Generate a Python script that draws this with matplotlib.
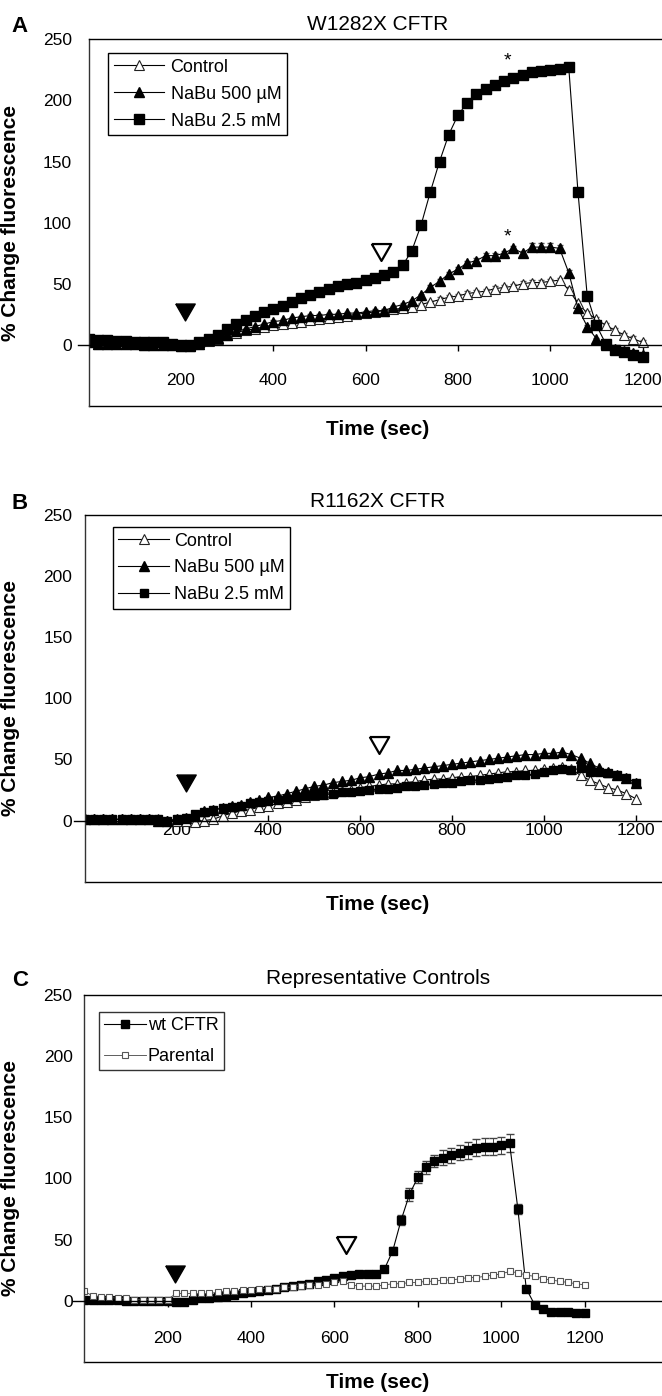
import matplotlib
matplotlib.use("Agg")
import matplotlib.pyplot as plt

plt.rcParams['font.family'] = ['Liberation Sans', 'DejaVu Sans']

# sample times (sec)
t = list(range(0, 1201, 20))

# Panel A: W1282X CFTR
a_ctrl = [2, 1, 1, 1, 1, 1, 0, 0, 0, 0,
          -1, -1, 1, 3, 5, 8, 10, 12, 13, 15,
          16, 17, 18, 19, 20, 21, 22, 23, 24, 25,
          26, 27, 28, 29, 30, 31, 33, 35, 37, 39,
          40, 42, 43, 44, 46, 47, 48, 50, 51, 51,
          52, 53, 45, 34, 26, 21, 16, 12, 8, 5,
          2]
a_ctrl_err = [1, 1, 1, 1, 1, 1, 1, 1, 1, 1,
              1, 1, 1, 1, 1, 1, 1, 1, 1, 1,
              1, 1, 1, 1, 1, 1, 1, 1, 1, 1,
              1, 1, 1, 1, 1, 1, 1, 1, 2, 2,
              2, 2, 2, 2, 2, 2, 2, 2, 2, 2,
              2, 2, 2, 2, 2, 2, 2, 2, 2, 2,
              2]
a_500 = [2, 1, 1, 1, 1, 1, 0, 0, 0, 0,
         -1, -1, 1, 4, 6, 8, 11, 13, 15, 17,
         19, 20, 22, 23, 24, 24, 25, 25, 26, 26,
         27, 28, 28, 31, 33, 36, 41, 47, 52, 58,
         62, 67, 69, 73, 73, 75, 79, 75, 80, 80,
         80, 79, 59, 30, 15, 5, 0, -3, -5, -7,
         -8]
a_500_err = [1, 1, 1, 1, 1, 1, 1, 1, 1, 1,
             1, 1, 1, 1, 1, 1, 1, 1, 1, 1,
             1, 1, 1, 1, 1, 1, 1, 1, 1, 1,
             1, 1, 1, 1, 1, 1, 1, 2, 2, 2,
             2, 2, 2, 2, 2, 2, 2, 2, 3, 3,
             3, 3, 2, 2, 1, 1, 1, 1, 1, 1,
             1]
a_25 = [5, 4, 4, 3, 3, 2, 2, 2, 2, 1,
        0, 0, 2, 5, 8, 13, 17, 20, 24, 27,
        29, 32, 35, 38, 41, 43, 46, 48, 50, 51,
        53, 55, 57, 60, 65, 77, 98, 125, 150, 172,
        188, 198, 205, 209, 213, 216, 218, 221, 223, 224,
        225, 226, 227, 125, 40, 16, 1, -4, -6, -8,
        -10]

# Panel B: R1162X CFTR
b_ctrl = [1, 1, 1, 1, 1, 1, 1, 1, 1, 0,
          0, 0, -1, 0, 1, 4, 6, 8, 9, 11,
          12, 14, 15, 17, 19, 21, 22, 23, 24, 25,
          27, 28, 29, 30, 30, 31, 32, 33, 34, 34,
          35, 36, 36, 37, 38, 39, 40, 40, 41, 41,
          42, 43, 44, 42, 37, 33, 30, 27, 25, 22,
          18]
b_500 = [1, 1, 1, 1, 1, 1, 1, 1, 0, 0,
         1, 2, 4, 8, 9, 10, 12, 13, 15, 17,
         19, 20, 22, 24, 26, 28, 29, 31, 32, 33,
         35, 36, 38, 39, 41, 41, 42, 43, 44, 45,
         46, 47, 48, 49, 50, 51, 52, 53, 54, 54,
         55, 55, 56, 54, 51, 47, 43, 40, 37, 35,
         31]
b_25 = [1, 1, 1, 1, 1, 1, 1, 1, 1, 0,
        1, 2, 5, 7, 9, 10, 11, 12, 14, 15,
        16, 17, 18, 19, 20, 21, 21, 22, 23, 23,
        24, 25, 26, 26, 27, 28, 28, 29, 30, 31,
        31, 32, 33, 33, 34, 35, 36, 37, 37, 38,
        40, 41, 42, 41, 43, 40, 40, 39, 37, 35,
        31]

# Panel C: representative controls
c_wt = [1, 1, 1, 1, 1, 0, 0, 0, 0, 0,
        0, -1, -1, 1, 2, 2, 3, 4, 5, 6,
        7, 8, 9, 10, 11, 12, 13, 14, 16, 17,
        19, 20, 21, 22, 22, 22, 26, 41, 66, 87,
        101, 109, 114, 117, 119, 121, 123, 125, 126, 126,
        127, 129, 75, 10, -3, -7, -9, -9, -9, -10,
        -10]
c_wt_err = [1, 1, 1, 1, 1, 1, 1, 1, 1, 1,
            1, 1, 1, 1, 1, 1, 1, 1, 1, 1,
            1, 1, 1, 1, 1, 1, 1, 1, 1, 1,
            1, 1, 1, 1, 1, 1, 2, 3, 4, 5,
            5, 5, 5, 6, 6, 6, 7, 7, 7, 7,
            7, 7, 4, 2, 1, 1, 1, 1, 1, 1,
            1]
c_par = [8, 4, 3, 3, 2, 2, 1, 1, 1, 1,
         1, 6, 6, 6, 6, 6, 7, 8, 8, 9,
         9, 10, 10, 10, 11, 11, 12, 13, 13, 14,
         15, 16, 13, 12, 12, 12, 13, 14, 14, 15,
         15, 16, 16, 17, 17, 18, 19, 19, 20, 21,
         22, 24, 23, 21, 20, 18, 17, 16, 15, 14,
         13]

# arrowhead markers (time, value) and asterisks
a_arrows = [(208, 27), (634, 76)]
b_arrows = [(220, 31), (641, 62)]
c_arrows = [(218, 22), (628, 46)]
a_stars = [(908, 232), (908, 88)]

xticks = [200, 400, 600, 800, 1000, 1200]
yticks = [0, 50, 100, 150, 200, 250]

W, H = 662, 1396
fig = plt.figure(figsize=(W / 100, H / 100), dpi=100)

def px_axes(left, top, bottom):
    return fig.add_axes([left / W, 1 - bottom / H, (W - left) / W, (bottom - top) / H])

down_tri = [(-1, 0.87), (1, 0.87), (0, -0.87), (-1, 0.87)]

def style(ax, xmax, ypad, xpad, xdir, left_px):
    ax.set_xlim(0, xmax)
    ax.set_ylim(-50, 250)
    ax.spines['right'].set_visible(False)
    ax.spines['bottom'].set_position(('data', 0))
    for s in ax.spines.values():
        s.set_linewidth(1.0)
    ax.spines['left'].set_color('#333333')
    ax.set_xticks(xticks)
    ax.set_yticks(yticks)
    ax.tick_params(axis='y', length=0, pad=ypad, labelsize=12.5)
    ax.tick_params(axis='x', length=4, direction=xdir, pad=xpad, labelsize=12.5, width=1)
    # box bottom and zero-line stub to the left
    ax.plot([0, 1], [0, 0], transform=ax.transAxes, color='k', lw=1.0, clip_on=False)
    ax.plot([-11 / (W - left_px), 0], [0, 0], transform=ax.get_yaxis_transform(),
            color='k', lw=1.0, clip_on=False)
    ax.set_ylabel('% Change fluorescence', fontsize=15, fontweight='bold')

def arrows(ax, pts):
    ax.plot(pts[0][0], pts[0][1], marker=down_tri, ms=14, color='k', ls='none')
    ax.plot(pts[1][0], pts[1][1], marker=down_tri, ms=14, mfc='white', mec='k',
            mew=1.6, ls='none')

lw = 0.8

# ---- A ----
axA = px_axes(88.7, 39.3, 406)
style(axA, 1242, 12, 16, 'out', 88.7)
axA.errorbar(t, a_ctrl, yerr=a_ctrl_err, fmt='none', ecolor='#555555', elinewidth=0.6, capsize=2.5)
axA.errorbar(t, a_500, yerr=a_500_err, fmt='none', ecolor='#555555', elinewidth=0.6, capsize=2.5)
lA1, = axA.plot(t, a_ctrl, '-', color='k', lw=lw, marker='^', ms=6.5, mfc='white', mec='#222222', mew=0.8, label='Control')
lA2, = axA.plot(t, a_500, '-', color='k', lw=lw, marker='^', ms=7, mfc='k', mec='k', label='NaBu 500 µM')
lA3, = axA.plot(t, a_25, '-', color='k', lw=lw, marker='s', ms=6.5, mfc='k', mec='k', label='NaBu 2.5 mM')
arrows(axA, a_arrows)
for x, y in a_stars:
    axA.text(x, y, '*', fontsize=14, ha='center', va='center')
axA.yaxis.set_label_coords((20 - 88.7) / (W - 88.7), 0.5)
axA.legend(handles=[lA1, lA2, lA3], loc='upper left', bbox_to_anchor=(0.0342, 0.962),
           borderaxespad=0, fontsize=13, frameon=True, fancybox=False, framealpha=1,
           edgecolor='k', handlelength=2.8, handletextpad=0.35, borderpad=0.3,
           labelspacing=0.55).get_frame().set_linewidth(1.0)

# ---- B ----
axB = px_axes(84.8, 515, 881.7)
style(axB, 1257.5, 9, 2, 'in', 84.8)
lB1, = axB.plot(t, b_ctrl, '-', color='k', lw=lw, marker='^', ms=6.5, mfc='white', mec='#222222', mew=0.8, label='Control')
lB2, = axB.plot(t, b_500, '-', color='k', lw=lw, marker='^', ms=7, mfc='k', mec='k', label='NaBu 500 µM')
lB3, = axB.plot(t, b_25, '-', color='k', lw=lw, marker='s', ms=6, mfc='k', mec='k', label='NaBu 2.5 mM')
arrows(axB, b_arrows)
axB.yaxis.set_label_coords((20 - 84.8) / (W - 84.8), 0.5)
axB.legend(handles=[lB1, lB2, lB3], loc='upper left', bbox_to_anchor=(0.0487, 0.967),
           borderaxespad=0, fontsize=13, frameon=True, fancybox=False, framealpha=1,
           edgecolor='k', handlelength=2.8, handletextpad=0.3, borderpad=0.3,
           labelspacing=0.55).get_frame().set_linewidth(1.0)

# ---- C ----
axC = px_axes(84.2, 995, 1362)
style(axC, 1385.6, 8.4, 18, 'out', 84.2)
axC.errorbar(t, c_wt, yerr=c_wt_err, fmt='none', ecolor='#444444', elinewidth=0.7, capsize=3)
lC1, = axC.plot(t, c_wt, '-', color='k', lw=lw, marker='s', ms=6, mfc='k', mec='k', label='wt CFTR')
lC2, = axC.plot(t, c_par, '-', color='#444444', lw=0.6, marker='s', ms=4.5, mfc='white', mec='#555555', mew=0.8, label='Parental')
arrows(axC, c_arrows)
axC.yaxis.set_label_coords((20 - 84.2) / (W - 84.2), 0.5)
axC.legend(handles=[lC1, lC2], loc='upper left', bbox_to_anchor=(0.0256, 0.954),
           borderaxespad=0, fontsize=13, frameon=True, fancybox=False, framealpha=1,
           edgecolor='#333333', handlelength=2.3, handletextpad=0.1, borderpad=0.3,
           labelspacing=0.75).get_frame().set_linewidth(1.0)

# titles, panel letters, x labels
for letter, title, base_y in [('A', 'W1282X CFTR', 30), ('B', 'R1162X CFTR', 507),
                              ('C', 'Representative Controls', 984)]:
    fig.text(11.7 / W, 1 - (base_y + 2) / H, letter, fontsize=16, fontweight='bold',
             ha='left', va='baseline')
    fig.text(378 / W, 1 - base_y / H, title, fontsize=15, ha='center', va='baseline')

for y in [430, 905, 1383]:
    fig.text(378 / W, 1 - y / H, 'Time (sec)', fontsize=15, fontweight='bold',
             ha='center', va='center')

fig.savefig('out.png', dpi=100)
